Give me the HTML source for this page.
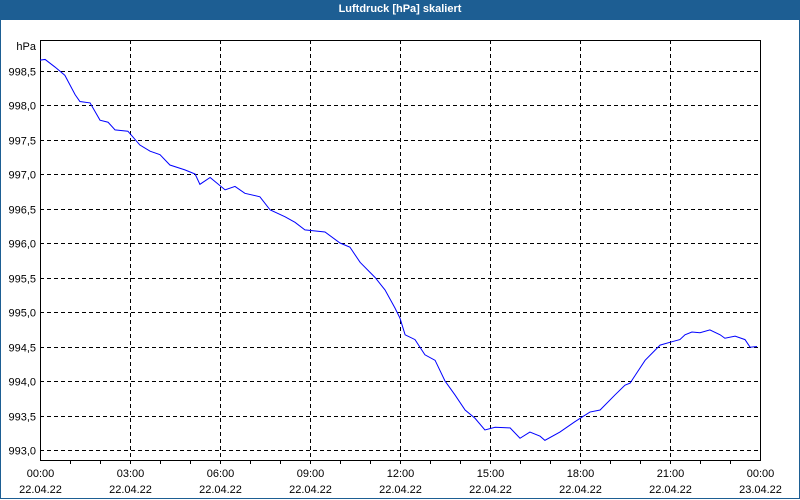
<!DOCTYPE html>
<html><head><meta charset="utf-8"><style>
body{margin:0;width:800px;height:500px;overflow:hidden;background:#fff;font-family:"Liberation Sans",sans-serif}
#title{position:absolute;left:0;top:0;width:800px;height:20px;background:#1d5e93;color:#fff;font-size:11px;font-weight:bold;text-align:center;line-height:19px}
#frame{position:absolute;left:0;top:20px;width:798px;height:478px;border:1px solid #1d5e93;border-top:none}
svg{position:absolute;left:0;top:0}
</style></head><body>
<div id="title">Luftdruck [hPa] skaliert</div>
<div id="frame"></div>
<svg id="c" width="800" height="500"></svg>
<script>
const hours=[0,0.17,0.5,0.83,1.17,1.33,1.67,2,2.27,2.5,2.93,3.33,3.67,4,4.33,4.83,5.17,5.33,5.67,6.17,6.5,6.83,7.33,7.67,8.17,8.5,8.83,9.5,10,10.33,10.67,11.17,11.5,11.83,12,12.17,12.5,12.83,13.17,13.5,13.83,14.17,14.5,14.83,15.17,15.67,16,16.33,16.67,16.83,17.33,17.83,18.33,18.67,19.17,19.5,19.67,20.17,20.67,21.07,21.33,21.5,21.73,22,22.33,22.67,22.83,23.17,23.5,23.67,23.9];
const values=[998.65,998.66,998.55,998.43,998.15,998.05,998.03,997.78,997.75,997.64,997.62,997.42,997.33,997.28,997.13,997.06,997.0,996.85,996.95,996.77,996.82,996.72,996.67,996.48,996.38,996.3,996.19,996.16,996.0,995.94,995.72,995.5,995.32,995.06,994.91,994.67,994.6,994.38,994.3,994.0,993.8,993.58,993.46,993.29,993.33,993.32,993.17,993.26,993.2,993.14,993.26,993.41,993.55,993.58,993.8,993.94,993.97,994.3,994.52,994.57,994.6,994.67,994.71,994.7,994.74,994.67,994.62,994.65,994.6,994.49,994.5];
const yTicks=["993,0","993,5","994,0","994,5","995,0","995,5","996,0","996,5","997,0","997,5","998,0","998,5"];
const yTickValues=[993,993.5,994,994.5,995,995.5,996,996.5,997,997.5,998,998.5];
const xTickHours=[0,3,6,9,12,15,18,21,24];
const xTickTimes=["00:00","03:00","06:00","09:00","12:00","15:00","18:00","21:00","00:00"];
const xTickDates=["22.04.22","22.04.22","22.04.22","22.04.22","22.04.22","22.04.22","22.04.22","22.04.22","23.04.22"];
const L=40,R=760,T=40,B=460;
const X=h=>L+h*(R-L)/24;
const Y=v=>450-(v-993)*69;
const s=document.getElementById('c'),NS='http://www.w3.org/2000/svg';
function mk(t,a){const e=document.createElementNS(NS,t);for(const k in a)e.setAttribute(k,a[k]);s.appendChild(e);return e;}
yTickValues.forEach((v,i)=>{
 const y=Math.round(Y(v))+0.5;
 const g=mk('line',{x1:L,x2:R,y1:y,y2:y,stroke:'#000','stroke-dasharray':'4,3','stroke-width':1});
 
 
 const t=mk('text',{x:L-4,y:y+4,'text-anchor':'end','font-size':11,fill:'#000'});
 t.textContent=yTicks[i];
 
 
});
for(let h=1;h<24;h++){
 const x=Math.round(X(h))+0.5;
 const tk=mk('line',{x1:x,x2:x,y1:B,y2:B+4,stroke:'#000'});
 
 
}
xTickHours.forEach((h,i)=>{
 const x=Math.round(X(h))+0.5;
 if(h>0&&h<24){const g=mk('line',{x1:x,x2:x,y1:T,y2:B,stroke:'#000','stroke-dasharray':'4,3'});
 
 }
 const t1=mk('text',{x:x,y:477,'text-anchor':'middle','font-size':11,fill:'#000'});
 t1.textContent=xTickTimes[i];
 
 
 const t2=mk('text',{x:x,y:493,'text-anchor':'middle','font-size':11,fill:'#000'});
 t2.textContent=xTickDates[i];
 
 
});
const box=mk('rect',{x:L+0.5,y:T+0.5,width:R-L,height:B-T,fill:'none',stroke:'#000'});


const u=mk('text',{x:L-4,y:50,'text-anchor':'end','font-size':11,fill:'#000'});
u.textContent='hPa';


const p=mk('polyline',{points:hours.map((h,i)=>X(h)+','+Y(values[i])).join(' '),fill:'none',stroke:'#0000ff','stroke-width':1});


</script>
</body></html>
